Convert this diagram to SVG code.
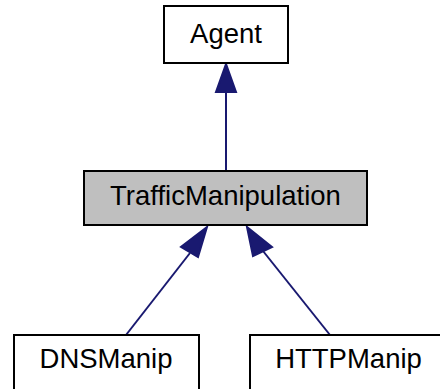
<svg xmlns="http://www.w3.org/2000/svg" width="440" height="389" viewBox="0 0 440 389">
  <style>
    .box { fill: #ffffff; stroke: #000000; stroke-width: 2; }
    .box.current { fill: #bfbfbf; }
    .label { font-family: "Liberation Sans", Arial, sans-serif; font-size: 27.5px; fill: #000000; text-anchor: middle; }
    .edge { stroke: #191970; stroke-width: 2; fill: none; }
    .head { fill: #191970; stroke: #191970; stroke-width: 2; stroke-linejoin: miter; }
  </style>
  <rect width="440" height="389" fill="#ffffff"/>

  <g id="connectors">
    <!-- TrafficManipulation -> Agent -->
    <line class="edge" x1="226" y1="171" x2="226" y2="92"/>
    <polygon class="head" points="226,64 216,92 236,92"/>
    <!-- DNSManip -> TrafficManipulation -->
    <line class="edge" x1="126" y1="335" x2="190" y2="253"/>
    <polygon class="head" points="207,227 181,247 198,257"/>
    <!-- HTTPManip -> TrafficManipulation -->
    <line class="edge" x1="330" y1="335" x2="263" y2="251"/>
    <polygon class="head" points="247,227 253,256 272,247"/>
  </g>

  <g id="node-agent">
    <rect class="box" x="164" y="6" width="124" height="57"/>
    <text class="label" x="226" y="43">Agent</text>
  </g>

  <g id="node-trafficmanipulation">
    <rect class="box current" x="84" y="171" width="283" height="54"/>
    <text class="label" x="225.5" y="205">TrafficManipulation</text>
  </g>

  <g id="node-dnsmanip">
    <rect class="box" x="14" y="335" width="185" height="60"/>
    <text class="label" x="106" y="368">DNSManip</text>
  </g>

  <g id="node-httpmanip">
    <rect class="box" x="250" y="335" width="200" height="60"/>
    <text class="label" x="348.5" y="368">HTTPManip</text>
  </g>
</svg>
